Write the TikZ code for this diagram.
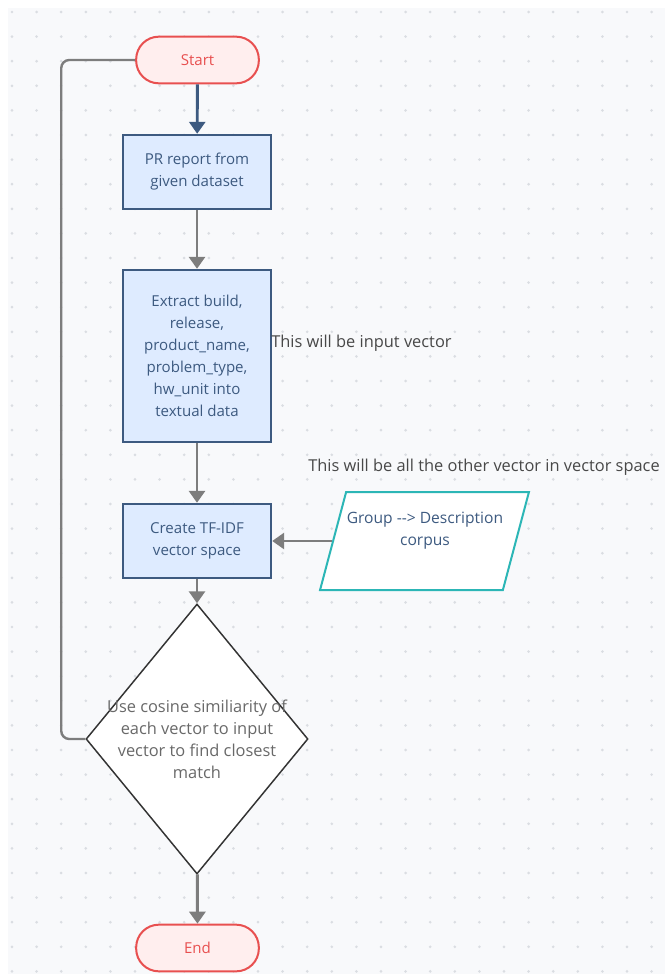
\documentclass[tikz,border=0pt]{standalone}
\usepackage{fontspec}
\setmainfont{Open Sans}
\usepackage{xcolor}
\usetikzlibrary{shapes.geometric,arrows.meta}
\definecolor{canvas}{RGB}{248,249,251}
\definecolor{griddot}{RGB}{218,221,226}
\definecolor{termred}{RGB}{232,80,80}
\definecolor{termfill}{RGB}{255,238,238}
\definecolor{boxblue}{RGB}{61,90,128}
\definecolor{boxfill}{RGB}{222,235,255}
\definecolor{flowgrey}{RGB}{125,125,125}
\definecolor{corpusteal}{RGB}{44,182,182}
\definecolor{notegrey}{RGB}{72,72,72}
\definecolor{diagtext}{RGB}{105,105,105}
\tikzset{
    boxfont/.style={font=\fontsize{11.3}{16.5}\selectfont},
    terminal/.style={draw=termred, fill=termfill, line width=1.5pt, rounded corners=17pt,
        minimum width=92pt, minimum height=35pt, text=termred, boxfont},
    process/.style={draw=boxblue, fill=boxfill, line width=1.8pt, minimum width=111pt,
        align=center, text=boxblue, boxfont},
    dataio/.style={trapezium, trapezium left angle=80.7, trapezium right angle=99.3,
        trapezium stretches=true, draw=corpusteal, fill=white, line width=1.5pt,
        minimum width=156.75pt, minimum height=73.5pt, inner sep=1pt},
    decision/.style={diamond, draw=black!80, fill=white, line width=1.1pt,
        minimum width=166.5pt, minimum height=202.5pt, inner sep=0pt},
    note/.style={text=notegrey, inner sep=0.75pt},
    flow/.style={draw=flowgrey, line width=2.2pt, -{Triangle[width=12pt,length=9pt]}},
}
\begin{document}
\begin{tikzpicture}[x=0.75pt,y=0.75pt,yscale=-1,xscale=1,
    every node/.append style={font=\fontsize{12.3}{16.5}\selectfont}]
    % Background
    \useasboundingbox (0,0) rectangle (665,974);
    \fill[white] (0,0) rectangle (665,974);
    \fill[canvas] (8,8) rectangle (665,974);
    \foreach \i in {0,...,26}
        \foreach \j in {0,...,39}
            \fill[griddot] (12+24.6*\i,12+24.6*\j) circle[radius=1.1pt];

    % Start / End
    \node[terminal] (start) at (197.5,60) {Start};
    \node[terminal] (end) at (197.5,948) {End};
    % Process boxes
    \node[process, minimum height=55.5pt] (report) at (197,172) {PR report from\\given dataset};
    \node[process, minimum height=129pt] (extract) at (197,356) {Extract build,\\release,\\product\_name,\\problem\_type,\\hw\_unit into\\textual data};
    \node[process, minimum height=55.5pt] (tfidf) at (197,541) {Create TF-IDF\\vector space};
    % Input data
    \node[dataio] (corpus) at (424.5,541) {\phantom{x}};
    \node[text=boxblue, align=center, font=\fontsize{11.7}{16.5}\selectfont] (corpustext) at (425,531) {Group -{}-> Description\\corpus};
    % Decision
    \node[decision] (match) at (197,739) {};
    \node[text=diagtext, align=center] (matchtext) at (197,739) {Use cosine similiarity of\\each vector to input\\vector to find closest\\match};
    % Text Node
    \node[note, anchor=west] (inputnote) at (270,343) {This will be input vector};
    % Text Node
    \node[note, anchor=west] (othernote) at (307,467) {This will be all the other vector in vector space};

    % Connectors
    \draw[flow, draw=boxblue] (start) -- (report);
    \draw[flow] (report) -- (extract);
    \draw[flow] (extract) -- (tfidf);
    \draw[flow] (corpus.west) -- (tfidf.east);
    \draw[flow] (tfidf) -- (match);
    \draw[flow] (match) -- (end);
    \draw[draw=flowgrey, line width=1.8pt, rounded corners=6pt] (match.west) -- ++(-24,0) |- (start.west);
\end{tikzpicture}
\end{document}
